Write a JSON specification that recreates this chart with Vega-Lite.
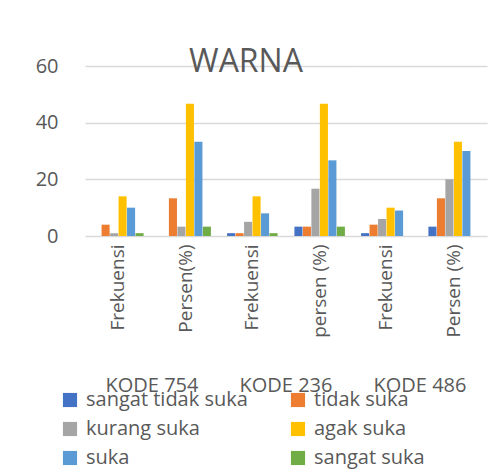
{
  "$schema": "https://vega.github.io/schema/vega-lite/v6.json",
  "padding": {"left": 5, "top": 46, "right": 5, "bottom": 5},
  "background": "white",
  "title": {"text": "WARNA", "fontSize": 32, "fontWeight": "normal", "color": "#595959", "font": "Open Sans", "offset": -23, "anchor": "middle"},
  "data": {"values": [
    {"kode": "KODE 754", "kategori": "Frekuensi", "respon": "sangat tidak suka", "nilai": 0},
    {"kode": "KODE 754", "kategori": "Frekuensi", "respon": "tidak suka", "nilai": 4},
    {"kode": "KODE 754", "kategori": "Frekuensi", "respon": "kurang suka", "nilai": 1},
    {"kode": "KODE 754", "kategori": "Frekuensi", "respon": "agak suka", "nilai": 14},
    {"kode": "KODE 754", "kategori": "Frekuensi", "respon": "suka", "nilai": 10},
    {"kode": "KODE 754", "kategori": "Frekuensi", "respon": "sangat suka", "nilai": 1},
    {"kode": "KODE 754", "kategori": "Persen(%)", "respon": "sangat tidak suka", "nilai": 0},
    {"kode": "KODE 754", "kategori": "Persen(%)", "respon": "tidak suka", "nilai": 13.3},
    {"kode": "KODE 754", "kategori": "Persen(%)", "respon": "kurang suka", "nilai": 3.3},
    {"kode": "KODE 754", "kategori": "Persen(%)", "respon": "agak suka", "nilai": 46.7},
    {"kode": "KODE 754", "kategori": "Persen(%)", "respon": "suka", "nilai": 33.3},
    {"kode": "KODE 754", "kategori": "Persen(%)", "respon": "sangat suka", "nilai": 3.3},
    {"kode": "KODE 236", "kategori": "Frekuensi", "respon": "sangat tidak suka", "nilai": 1},
    {"kode": "KODE 236", "kategori": "Frekuensi", "respon": "tidak suka", "nilai": 1},
    {"kode": "KODE 236", "kategori": "Frekuensi", "respon": "kurang suka", "nilai": 5},
    {"kode": "KODE 236", "kategori": "Frekuensi", "respon": "agak suka", "nilai": 14},
    {"kode": "KODE 236", "kategori": "Frekuensi", "respon": "suka", "nilai": 8},
    {"kode": "KODE 236", "kategori": "Frekuensi", "respon": "sangat suka", "nilai": 1},
    {"kode": "KODE 236", "kategori": "persen (%)", "respon": "sangat tidak suka", "nilai": 3.3},
    {"kode": "KODE 236", "kategori": "persen (%)", "respon": "tidak suka", "nilai": 3.3},
    {"kode": "KODE 236", "kategori": "persen (%)", "respon": "kurang suka", "nilai": 16.7},
    {"kode": "KODE 236", "kategori": "persen (%)", "respon": "agak suka", "nilai": 46.7},
    {"kode": "KODE 236", "kategori": "persen (%)", "respon": "suka", "nilai": 26.7},
    {"kode": "KODE 236", "kategori": "persen (%)", "respon": "sangat suka", "nilai": 3.3},
    {"kode": "KODE 486", "kategori": "Frekuensi", "respon": "sangat tidak suka", "nilai": 1},
    {"kode": "KODE 486", "kategori": "Frekuensi", "respon": "tidak suka", "nilai": 4},
    {"kode": "KODE 486", "kategori": "Frekuensi", "respon": "kurang suka", "nilai": 6},
    {"kode": "KODE 486", "kategori": "Frekuensi", "respon": "agak suka", "nilai": 10},
    {"kode": "KODE 486", "kategori": "Frekuensi", "respon": "suka", "nilai": 9},
    {"kode": "KODE 486", "kategori": "Frekuensi", "respon": "sangat suka", "nilai": 0},
    {"kode": "KODE 486", "kategori": "Persen (%)", "respon": "sangat tidak suka", "nilai": 3.3},
    {"kode": "KODE 486", "kategori": "Persen (%)", "respon": "tidak suka", "nilai": 13.3},
    {"kode": "KODE 486", "kategori": "Persen (%)", "respon": "kurang suka", "nilai": 20},
    {"kode": "KODE 486", "kategori": "Persen (%)", "respon": "agak suka", "nilai": 33.3},
    {"kode": "KODE 486", "kategori": "Persen (%)", "respon": "suka", "nilai": 30},
    {"kode": "KODE 486", "kategori": "Persen (%)", "respon": "sangat suka", "nilai": 0}
  ]},
  "facet": {"column": {"field": "kode", "type": "nominal", "sort": ["KODE 754", "KODE 236", "KODE 486"],
    "header": {"title": null, "labelOrient": "bottom", "labelFontSize": 20, "labelColor": "#595959", "labelFont": "Open Sans", "labelPadding": 38}}},
  "spacing": 0,
  "resolve": {"scale": {"x": "independent", "xOffset": "independent"}},
  "spec": {
    "width": 134,
    "height": 170,
    "mark": {"type": "bar"},
    "encoding": {
      "x": {"field": "kategori", "type": "nominal", "sort": null,
        "scale": {"paddingInner": 0.25, "paddingOuter": 0.12},
        "axis": {"title": null, "labelAngle": -90, "labelFontSize": 19, "labelColor": "#595959", "labelFont": "Open Sans", "domain": false, "ticks": false, "labelPadding": 8}},
      "xOffset": {"field": "respon", "type": "nominal", "sort": ["sangat tidak suka", "tidak suka", "kurang suka", "agak suka", "suka", "sangat suka"], "scale": {"paddingInner": 0.05}},
      "y": {"field": "nilai", "type": "quantitative", "scale": {"domain": [0, 60]},
        "axis": {"title": null, "values": [0, 20, 40, 60], "domain": false, "ticks": false, "labelFontSize": 20, "labelColor": "#595959", "labelFont": "Open Sans", "labelPadding": 27, "minExtent": 80, "gridColor": "#d9d9d9", "gridWidth": 1.5}},
      "color": {"field": "respon", "type": "nominal",
        "sort": ["sangat tidak suka", "tidak suka", "kurang suka", "agak suka", "suka", "sangat suka"],
        "scale": {"domain": ["sangat tidak suka", "tidak suka", "kurang suka", "agak suka", "suka", "sangat suka"], "range": ["#4472C4", "#ED7D31", "#A5A5A5", "#FFC000", "#5B9BD5", "#70AD47"]},
        "legend": {"orient": "none", "legendX": -25, "legendY": 324, "direction": "horizontal", "columns": 2, "title": null, "symbolType": "square", "symbolSize": 200, "symbolStrokeWidth": 0, "labelFontSize": 20, "labelColor": "#595959", "labelFont": "Open Sans", "rowPadding": 9, "columnPadding": 40, "labelOffset": 6, "labelLimit": 300}}
    }
  },
  "config": {"view": {"stroke": null}, "font": "Open Sans"}
}
